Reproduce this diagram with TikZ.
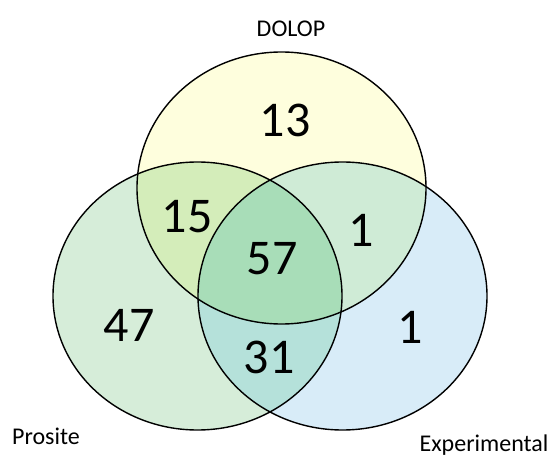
\documentclass[tikz,border=0pt]{standalone}
\usepackage{fontspec}
\setmainfont{Carlito}
\definecolor{cD}{HTML}{FEFEDD}
\definecolor{cP}{HTML}{D6EDD9}
\definecolor{cE}{HTML}{D8ECF8}
\definecolor{cDP}{HTML}{D4EDBA}
\definecolor{cDE}{HTML}{CFEBD6}
\definecolor{cPE}{HTML}{B5E1DA}
\definecolor{cDPE}{HTML}{A8DDB8}
\tikzset{
  num/.style={anchor=base, inner sep=0pt, font=\fontsize{50}{50}\selectfont},
  lbl/.style={anchor=base, inner sep=0pt, font=\fontsize{24}{24}\selectfont},
  outline/.style={draw=black, line width=1.4pt}
}
\newcommand{\ellD}{(281.5,188) ellipse [x radius=144.5pt, y radius=136pt]}
\newcommand{\ellP}{(197.5,296) ellipse [x radius=144.5pt, y radius=134pt]}
\newcommand{\ellE}{(342.5,296) ellipse [x radius=144.5pt, y radius=134pt]}
\begin{document}
\begin{tikzpicture}[x=1pt, y=-1pt]
\useasboundingbox (0,0) rectangle (554,457);
\fill[cP] \ellP;
\fill[cE] \ellE;
\fill[cD] \ellD;
\begin{scope}
  \clip \ellP;
  \fill[cPE] \ellE;
  \fill[cDP] \ellD;
\end{scope}
\begin{scope}
  \clip \ellD;
  \fill[cDE] \ellE;
\end{scope}
\begin{scope}
  \clip \ellP;
  \clip \ellD;
  \fill[cDPE] \ellE;
\end{scope}
\draw[outline] \ellD;
\draw[outline] \ellP;
\draw[outline] \ellE;
\node[num] (n13) at (285,137) {13};
\node[num] (n15) at (187,233) {15};
\node[num] (n57) at (272,274) {57};
\node[num] (n1a) at (361,247) {1};
\node[num] (n47) at (129,341) {47};
\node[num] (n31) at (269,373) {31};
\node[num] (n1b) at (410,343) {1};
\node[lbl] (ldolop) at (291,37) {DOLOP};
\node[lbl] (lpros) at (46,444) {Prosite};
\node[lbl] (lexp) at (484,451) {Experimental};
\end{tikzpicture}
\end{document}
